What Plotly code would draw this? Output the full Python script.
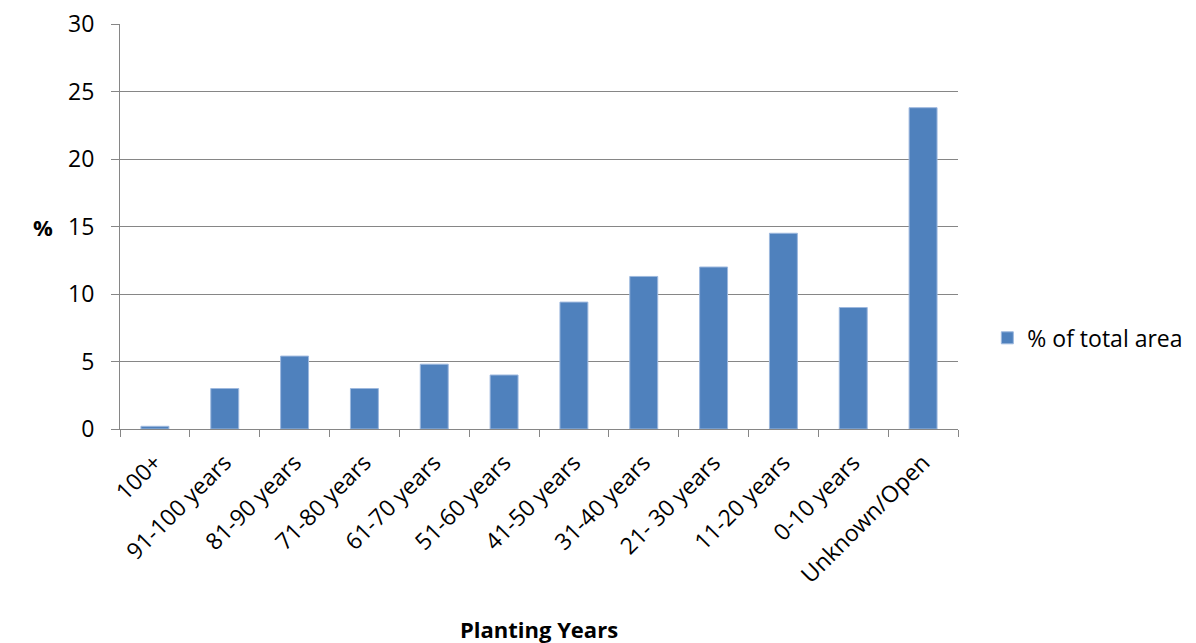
import plotly.graph_objects as go

categories = ["100+", "91-100 years", "81-90 years", "71-80 years", "61-70 years",
              "51-60 years", "41-50 years", "31-40 years", "21- 30 years",
              "11-20 years", "0-10 years", "Unknown/Open"]
values = [0.2, 3.0, 5.4, 3.0, 4.8, 4.0, 9.4, 11.3, 12.0, 14.5, 9.0, 23.8]
series_name = "% of total area"

FONT = "Open Sans"
FS = 23

fig = go.Figure()
fig.add_trace(go.Bar(
    x=categories, y=values, name=series_name,
    marker=dict(color="#4F81BD", line=dict(color="#9DB8DE", width=1)),
))

fig.update_layout(
    width=1196, height=643,
    margin=dict(l=120, r=238, t=24, b=214, autoexpand=False),
    plot_bgcolor="white", paper_bgcolor="white",
    bargap=0.6,
    font=dict(family=FONT, size=FS, color="black"),
    showlegend=True,
    legend=dict(x=1.035, y=0.225, xanchor="left", yanchor="middle",
                font=dict(family=FONT, size=FS, color="black"),
                bgcolor="rgba(0,0,0,0)"),
    xaxis=dict(
        type="category", tickangle=-45, tickson="boundaries",
        ticks="outside", ticklen=7, tickcolor="#868686", tickwidth=1,
        showline=True, linecolor="#868686", linewidth=1, mirror=False,
        showgrid=False, tickfont=dict(family=FONT, size=FS),
        ticklabelstandoff=10, automargin=False,
    ),
    yaxis=dict(
        range=[0, 30], dtick=5, tick0=0,
        ticks="outside", ticklen=8, tickcolor="#868686", tickwidth=1,
        showline=True, linecolor="#868686", linewidth=1,
        showgrid=True, gridcolor="#868686", gridwidth=1,
        zeroline=False, tickfont=dict(family=FONT, size=FS),
        ticklabelstandoff=12, automargin=False,
    ),
    annotations=[
        dict(text="<b>%</b>", x=(43 - 120) / 838, y=15, xref="paper", yref="y",
             showarrow=False, font=dict(family=FONT, size=FS - 1), xanchor="center"),
        dict(text="<b>Planting Years</b>", x=0.5, y=(429 - 629) / 405, xref="paper", yref="paper",
             showarrow=False, font=dict(family=FONT, size=FS - 1), xanchor="center", yanchor="middle"),
    ],
)

fig.write_html("out.html")
